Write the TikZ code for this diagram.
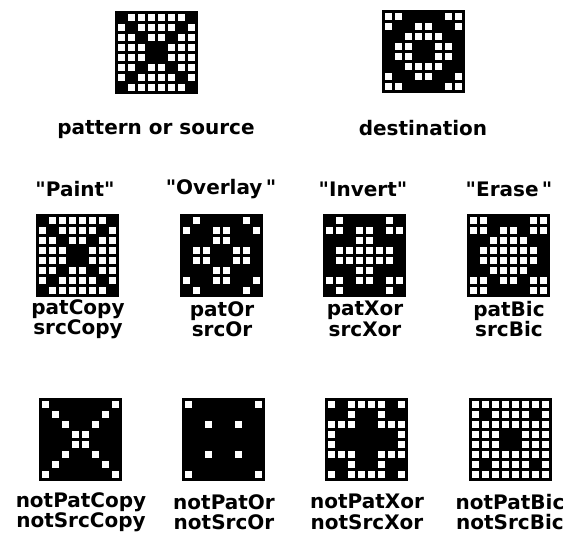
\documentclass[tikz,border=0pt]{standalone}
\usepackage{fontspec}
\setmainfont{DejaVu Sans}[Ligatures=TeXOff]
\newcommand\bitgrid[3]{%
  \fill[black] (#1,#2) rectangle ++(83,83);
  \foreach \r [count=\j from 0] in {#3} {%
    \foreach \b [count=\i from 0] in \r {%
      \ifnum\b=0 \fill[white] ({#1+3+\i*10},{#2+3+\j*10}) rectangle ++(7,7);\fi
    }%
  }%
}
\newcommand\qq{\symbol{34}}
\begin{document}
\begin{tikzpicture}[x=1pt,y=-1pt,
  lbl/.style={font=\bfseries\fontsize{20}{20.5}\selectfont, inner sep=0pt, align=center}]
\useasboundingbox[fill=white] (0,0) rectangle (568,540);
% source and destination
\bitgrid{115}{11}{{1,0,0,0,0,0,0,1},{0,1,0,0,0,0,1,0},{0,0,1,0,0,1,0,0},{0,0,0,1,1,0,0,0},{0,0,0,1,1,0,0,0},{0,0,1,0,0,1,0,0},{0,1,0,0,0,0,1,0},{1,0,0,0,0,0,0,1}}
\bitgrid{382}{10}{{0,0,1,1,1,1,0,0},{0,1,1,0,0,1,1,0},{1,1,0,0,0,0,1,1},{1,0,0,1,1,0,0,1},{1,0,0,1,1,0,0,1},{1,1,0,0,0,0,1,1},{0,1,1,0,0,1,1,0},{0,0,1,1,1,1,0,0}}
\node[lbl] (src) at (156,130) {pattern or source};
\node[lbl] (dst) at (423,128) {destination};
% titles
\node[lbl] (t1) at (75,189) {\qq Paint\qq};
\node[lbl] (t2) at (221,189) {\qq Overlay\,\qq};
\node[lbl] (t3) at (363,189) {\qq Invert\qq};
\node[lbl] (t4) at (509,189) {\qq Erase\,\qq};
% middle row
\bitgrid{36}{214}{{1,0,0,0,0,0,0,1},{0,1,0,0,0,0,1,0},{0,0,1,0,0,1,0,0},{0,0,0,1,1,0,0,0},{0,0,0,1,1,0,0,0},{0,0,1,0,0,1,0,0},{0,1,0,0,0,0,1,0},{1,0,0,0,0,0,0,1}}
\bitgrid{180}{214}{{1,0,1,1,1,1,0,1},{0,1,1,0,0,1,1,0},{1,1,1,0,0,1,1,1},{1,0,0,1,1,0,0,1},{1,0,0,1,1,0,0,1},{1,1,1,0,0,1,1,1},{0,1,1,0,0,1,1,0},{1,0,1,1,1,1,0,1}}
\bitgrid{323}{214}{{1,0,1,1,1,1,0,1},{0,0,1,0,0,1,0,0},{1,1,1,0,0,1,1,1},{1,0,0,0,0,0,0,1},{1,0,0,0,0,0,0,1},{1,1,1,0,0,1,1,1},{0,0,1,0,0,1,0,0},{1,0,1,1,1,1,0,1}}
\bitgrid{467}{214}{{0,0,1,1,1,1,0,0},{0,0,1,0,0,1,0,0},{1,1,0,0,0,0,1,1},{1,0,0,0,0,0,0,1},{1,0,0,0,0,0,0,1},{1,1,0,0,0,0,1,1},{0,0,1,0,0,1,0,0},{0,0,1,1,1,1,0,0}}
\node[lbl] (m1) at (78,319) {patCopy\\srcCopy};
\node[lbl] (m2) at (222,319) {patOr\\srcOr};
\node[lbl] (m3) at (365,319) {patXor\\srcXor};
\node[lbl] (m4) at (509,319) {patBic\\srcBic};
% bottom row
\bitgrid{39}{398}{{0,1,1,1,1,1,1,0},{1,0,1,1,1,1,0,1},{1,1,0,1,1,0,1,1},{1,1,1,0,0,1,1,1},{1,1,1,0,0,1,1,1},{1,1,0,1,1,0,1,1},{1,0,1,1,1,1,0,1},{0,1,1,1,1,1,1,0}}
\bitgrid{182}{398}{{0,1,1,1,1,1,1,0},{1,1,1,1,1,1,1,1},{1,1,0,1,1,0,1,1},{1,1,1,1,1,1,1,1},{1,1,1,1,1,1,1,1},{1,1,0,1,1,0,1,1},{1,1,1,1,1,1,1,1},{0,1,1,1,1,1,1,0}}
\bitgrid{325}{398}{{0,1,0,0,0,0,1,0},{1,1,0,1,1,0,1,1},{0,0,0,1,1,0,0,0},{0,1,1,1,1,1,1,0},{0,1,1,1,1,1,1,0},{0,0,0,1,1,0,0,0},{1,1,0,1,1,0,1,1},{0,1,0,0,0,0,1,0}}
\bitgrid{469}{398}{{0,0,0,0,0,0,0,0},{0,1,0,0,0,0,1,0},{0,0,0,0,0,0,0,0},{0,0,0,1,1,0,0,0},{0,0,0,1,1,0,0,0},{0,0,0,0,0,0,0,0},{0,1,0,0,0,0,1,0},{0,0,0,0,0,0,0,0}}
\node[lbl] (b1) at (81,512) {notPatCopy\\notSrcCopy};
\node[lbl] (b2) at (224,512) {notPatOr\\notSrcOr};
\node[lbl] (b3) at (367,512) {notPatXor\\notSrcXor};
\node[lbl] (b4) at (510,512) {notPatBic\\notSrcBic};
\end{tikzpicture}
\end{document}
